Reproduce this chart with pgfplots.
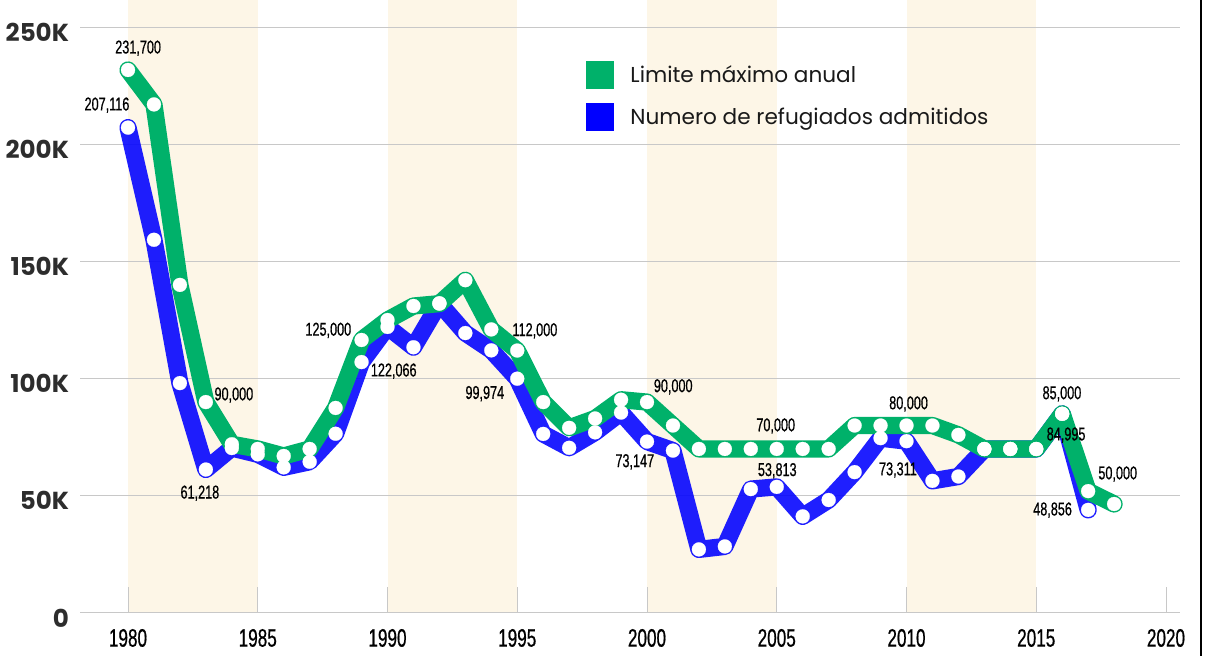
\documentclass[border=0pt]{standalone}
\usepackage{fontspec}
\setmainfont{Poppins}
\newfontfamily\condfont[FakeStretch=0.68, FakeBold=0.6]{Liberation Sans}
\usepackage{pgfplots}
\usepackage{pgfplotstable}
\pgfplotsset{compat=1.18}
\definecolor{limgreen}{RGB}{0,177,106}
\definecolor{refblue}{RGB}{0,0,255}
\definecolor{band}{RGB}{253,246,231}
\definecolor{gridgray}{RGB}{200,200,200}
\definecolor{labgray}{RGB}{45,45,45}
\tikzset{lbl/.style={font=\condfont\fontsize{9.3}{11}\selectfont, text=black, inner sep=0pt}}

\pgfplotstableread{
year lim
1980 231700
1981 217000
1982 140000
1983 90000
1984 72000
1985 70000
1986 67000
1987 70000
1988 87500
1989 116500
1990 125000
1991 131000
1992 132000
1993 142000
1994 121000
1995 112000
1996 90000
1997 79000
1998 83000
1999 91000
2000 90000
2001 80000
2002 70000
2003 70000
2004 70000
2005 70000
2006 70000
2007 70000
2008 80000
2009 80000
2010 80000
2011 80000
2012 76000
2013 70000
2014 70000
2015 70000
2016 85000
2017 52000
2018 46500
}\limtab

\pgfplotstableread{
year adm
1980 207116
1981 159252
1982 98096
1983 61218
1984 70393
1985 67704
1986 62146
1987 64528
1988 76483
1989 107070
1990 122066
1991 113389
1992 132173
1993 119448
1994 112065
1995 99974
1996 76403
1997 70488
1998 77080
1999 85525
2000 73147
2001 69304
2002 27131
2003 28403
2004 52873
2005 53813
2006 41223
2007 48218
2008 60107
2009 74602
2010 73311
2011 56384
2012 58238
2013 69926
2014 69987
2015 69933
2016 84995
2017 44000
}\admtab

\begin{document}
\begin{tikzpicture}
\begin{axis}[
  at={(40pt,21.5pt)}, anchor=south west,
  scale only axis, width=550pt, height=298.8pt,
  set layers=standard,
  clip=false,
  xmin=1978.15, xmax=2020.54, ymin=0, ymax=255000,
  axis line style={draw=none},
  xtick={1980,1985,1990,1995,2000,2005,2010,2015,2020},
  xticklabels={1980,1985,1990,1995,2000,2005,2010,2015,2020},
  ytick={0,50000,100000,150000,200000,250000},
  yticklabels={0,50K,100K,150K,200K,250K},
  scaled y ticks=false,
  xtick pos=bottom,
  tick align=inside,
  major tick length=13pt,
  x tick style={gridgray, line width=0.5pt},
  y tick style={draw=none},
  ymajorgrids,
  grid style={gridgray, line width=0.5pt},
  xticklabel style={font=\condfont\fontsize{12.6}{14}\selectfont, text=black, anchor=north, yshift=-4.5pt},
  yticklabel style={font=\bfseries\fontsize{12.3}{15}\selectfont, text=labgray, anchor=east, xshift=-2pt, yshift=-2.5pt},
  legend style={at={(axis cs:1997.65,235500)}, anchor=north west, draw=none, fill=none,
    inner sep=0pt, row sep=7pt, column sep=8pt,
    font=\fontsize{10.8}{13}\selectfont, text=black!90,
    nodes={inner sep=0pt, anchor=west}},
  legend cell align=left,
  legend image code/.code={\fill[#1, draw=none] (0pt,-7pt) rectangle (14pt,7pt);},
]
% background bands
\addplot[fill=band, draw=none, forget plot, on layer=axis background] coordinates {(1980,0) (1980,262000) (1985,262000) (1985,0)} -- cycle;
\addplot[fill=band, draw=none, forget plot, on layer=axis background] coordinates {(1990,0) (1990,262000) (1995,262000) (1995,0)} -- cycle;
\addplot[fill=band, draw=none, forget plot, on layer=axis background] coordinates {(2000,0) (2000,262000) (2005,262000) (2005,0)} -- cycle;
\addplot[fill=band, draw=none, forget plot, on layer=axis background] coordinates {(2010,0) (2010,262000) (2015,262000) (2015,0)} -- cycle;

\addlegendimage{fill=limgreen, draw=none}
\addlegendentry{Limite máximo anual}
\addlegendimage{fill=refblue, draw=none}
\addlegendentry{Numero de refugiados admitidos}

\addplot[refblue, draw opacity=0.88, line width=8.6pt, line join=round, line cap=round,
  mark=*, mark size=3.5pt, mark options={fill=white, draw=white, line width=0.1pt, opacity=1}, forget plot]
  table[x=year, y=adm] {\admtab};
\addplot[limgreen, line width=8.6pt, line join=round, line cap=round,
  mark=*, mark size=3.5pt, mark options={fill=white, draw=white, line width=0.1pt}, forget plot]
  table[x=year, y=lim] {\limtab};

\node[lbl] at (axis cs:1980.39,241000) {231,700};
\node[lbl] at (axis cs:1979.19,216700) {207,116};
\node[lbl] at (axis cs:1984.08,93000) {90,000};
\node[lbl] at (axis cs:1982.77,51100) {61,218};
\node[lbl] at (axis cs:1987.72,120600) {125,000};
\node[lbl] at (axis cs:1990.24,103200) {122,066};
\node[lbl] at (axis cs:1993.75,93600) {99,974};
\node[lbl] at (axis cs:1995.68,120400) {112,000};
\node[lbl] at (axis cs:1999.53,64500) {73,147};
\node[lbl] at (axis cs:2001.01,96500) {90,000};
\node[lbl] at (axis cs:2004.96,79800) {70,000};
\node[lbl] at (axis cs:2005.02,60700) {53,813};
\node[lbl] at (axis cs:2010.08,89200) {80,000};
\node[lbl] at (axis cs:2009.67,61000) {73,311};
\node[lbl] at (axis cs:2015.99,93500) {85,000};
\node[lbl] at (axis cs:2016.15,75900) {84,995};
\node[lbl] at (axis cs:2018.14,59300) {50,000};
\node[lbl] at (axis cs:2015.63,43900) {48,856};
\end{axis}
\draw[black, line width=1pt] (600.3pt,0) -- (600.3pt,328pt);
\pgfresetboundingbox
\path (0,0) rectangle (604pt,328pt);
\end{tikzpicture}
\end{document}
